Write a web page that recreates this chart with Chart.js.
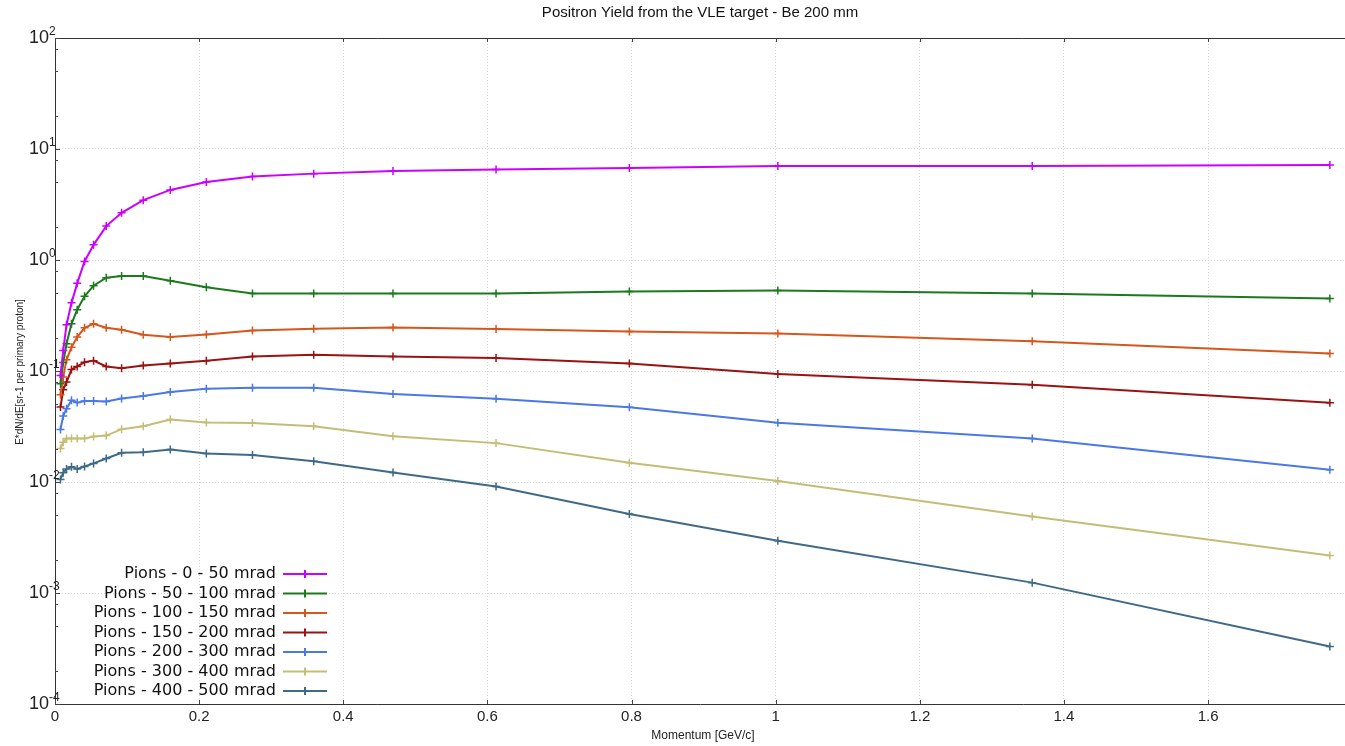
<!DOCTYPE html>
<html>
<head>
<meta charset="utf-8">
<script src="https://cdn.jsdelivr.net/npm/chart.js@4.4.1/dist/chart.umd.min.js"></script>
<style>
  html, body { margin: 0; padding: 0; background: #fff; overflow: hidden; }
  #wrap { width: 1345px; height: 746px; position: relative; }
</style>
</head>
<body>
<div id="wrap"><canvas id="grafico"></canvas></div>
<script>
// Momento (GeV/c) - mesmos bins para todas as séries
const momentum = [0.0076, 0.0114, 0.016, 0.0229, 0.0308, 0.041, 0.0535, 0.0711, 0.0924, 0.1225,
  0.160, 0.210, 0.274, 0.359, 0.469, 0.612, 0.797, 1.003, 1.356, 1.769];

// E*dN/dE por faixa angular
const pions0_50 = [0.091, 0.153, 0.261, 0.411, 0.616, 0.971, 1.37, 2.02, 2.66, 3.46,
  4.28, 5.05, 5.64, 6.0, 6.34, 6.52, 6.75, 7.03, 7.03, 7.18];
const pions50_100 = [0.0769, 0.119, 0.176, 0.266, 0.356, 0.471, 0.587, 0.693, 0.718, 0.718,
  0.650, 0.567, 0.498, 0.498, 0.498, 0.498, 0.519, 0.530, 0.498, 0.449];
const pions100_150 = [0.0612, 0.0881, 0.126, 0.164, 0.202, 0.245, 0.266, 0.245, 0.235, 0.212,
  0.202, 0.213, 0.232, 0.240, 0.246, 0.239, 0.227, 0.218, 0.185, 0.144];
const pions150_200 = [0.0474, 0.0679, 0.0794, 0.103, 0.110, 0.120, 0.124, 0.110, 0.106, 0.112,
  0.117, 0.124, 0.135, 0.140, 0.135, 0.131, 0.117, 0.094, 0.075, 0.0517];
const pions200_300 = [0.0297, 0.0394, 0.0458, 0.0544, 0.0519, 0.0537, 0.0537, 0.053, 0.0564, 0.0595,
  0.0646, 0.0693, 0.0708, 0.0708, 0.062, 0.0561, 0.0471, 0.0342, 0.0246, 0.0129];
const pions300_400 = [0.0200, 0.0228, 0.0246, 0.0246, 0.0246, 0.0246, 0.0257, 0.0262, 0.0299, 0.0318,
  0.0365, 0.0343, 0.0340, 0.0318, 0.0258, 0.0224, 0.0149, 0.0102, 0.00489, 0.00218];
const pions400_500 = [0.01055, 0.0121, 0.0131, 0.0137, 0.0131, 0.0138, 0.0147, 0.0163, 0.0183, 0.0185,
  0.0196, 0.0181, 0.0175, 0.0154, 0.0122, 0.0091, 0.00515, 0.00295, 0.00124, 0.00033];

const seriesNames = ['Pions - 0 - 50 mrad', 'Pions - 50 - 100 mrad', 'Pions - 100 - 150 mrad',
  'Pions - 150 - 200 mrad', 'Pions - 200 - 300 mrad', 'Pions - 300 - 400 mrad', 'Pions - 400 - 500 mrad'];
const seriesValues = [pions0_50, pions50_100, pions100_150, pions150_200, pions200_300, pions300_400, pions400_500];
const seriesColors = ['#cc00ff', '#1c7a1c', '#d6561c', '#9a1212', '#4a78e8', '#c4bd76', '#3e6a88'];

// Ticks dos eixos
const xTicks = [0, 0.2, 0.4, 0.6, 0.8, 1.0, 1.2, 1.4, 1.6];
const yDecades = [-4, -3, -2, -1, 0, 1, 2];
const yMinor = [2, 5, 8];

const titulo = 'Positron Yield from the VLE target - Be 200 mm';
const tituloX = 'Momentum [GeV/c]';
const tituloY = 'E*dN/dE[sr-1 per primary proton]';

const FONT = '"Liberation Sans", Arial, sans-serif';

// Plugin para textos, marcas e legenda
const extras = {
  id: 'extras',
  afterDraw(chart) {
    const { ctx, chartArea: a, scales: { x, y } } = chart;
    ctx.save();

    // borda superior
    ctx.strokeStyle = '#333';
    ctx.lineWidth = 1;
    ctx.beginPath();
    ctx.moveTo(a.left, a.top + 0.5);
    ctx.lineTo(a.right, a.top + 0.5);
    ctx.stroke();

    // marcas do eixo y
    ctx.strokeStyle = '#444';
    yDecades.forEach(e => {
      const py = Math.round(y.getPixelForValue(Math.pow(10, e))) + 0.5;
      ctx.beginPath();
      ctx.moveTo(a.left, py);
      ctx.lineTo(a.left + 5, py);
      ctx.stroke();
      if (e < 2) {
        yMinor.forEach(m => {
          const pm = Math.round(y.getPixelForValue(m * Math.pow(10, e))) + 0.5;
          ctx.beginPath();
          ctx.moveTo(a.left, pm);
          ctx.lineTo(a.left + 3, pm);
          ctx.stroke();
        });
      }
    });

    // marcas do eixo x (baixo e topo)
    x.ticks.forEach(t => {
      const px = Math.round(x.getPixelForValue(t.value)) + 0.5;
      ctx.beginPath();
      ctx.moveTo(px, a.bottom);
      ctx.lineTo(px, a.bottom - 4);
      ctx.moveTo(px, a.top);
      ctx.lineTo(px, a.top + 4);
      ctx.stroke();
    });

    // rótulos do eixo y: 10^n
    ctx.fillStyle = '#222';
    yDecades.forEach(e => {
      const py = y.getPixelForValue(Math.pow(10, e));
      ctx.font = '18px ' + FONT;
      ctx.textAlign = 'right';
      ctx.textBaseline = 'middle';
      ctx.fillText('10', 49, py);
      ctx.font = '12px ' + FONT;
      ctx.textAlign = 'left';
      ctx.textBaseline = 'alphabetic';
      ctx.fillText(String(e), 49, py - 3);
    });

    // título do eixo y
    ctx.save();
    ctx.translate(20, 372);
    ctx.rotate(-Math.PI / 2);
    ctx.font = '10px ' + FONT;
    ctx.textAlign = 'center';
    ctx.textBaseline = 'middle';
    ctx.fillStyle = '#222';
    ctx.fillText(tituloY, 0, 0);
    ctx.restore();

    // título do eixo x
    ctx.font = '12px ' + FONT;
    ctx.textAlign = 'center';
    ctx.textBaseline = 'middle';
    ctx.fillText(tituloX, 703, 736);

    // título principal
    ctx.font = '15px ' + FONT;
    ctx.fillStyle = '#111';
    ctx.fillText(titulo, (a.left + a.right) / 2, 13);

    // legenda
    ctx.font = '16px "DejaVu Sans", sans-serif';
    chart.data.datasets.forEach((ds, i) => {
      const ly = 574 + i * 19.5;
      ctx.fillStyle = '#111';
      ctx.textAlign = 'right';
      ctx.textBaseline = 'middle';
      ctx.fillText(ds.label, 276, ly);
      ctx.strokeStyle = ds.borderColor;
      ctx.lineWidth = 2;
      ctx.beginPath();
      ctx.moveTo(283, ly);
      ctx.lineTo(327, ly);
      ctx.moveTo(305, ly - 4);
      ctx.lineTo(305, ly + 4);
      ctx.stroke();
    });

    ctx.restore();
  }
};

const datasets = seriesNames.map((nome, i) => ({
  label: nome,
  data: momentum.map((m, j) => ({ x: m, y: seriesValues[i][j] })),
  borderColor: seriesColors[i],
  backgroundColor: seriesColors[i],
  borderWidth: 2,
  pointStyle: 'cross',
  pointRadius: 4,
  pointBorderWidth: 1.5,
  tension: 0
}));

new Chart(document.getElementById('grafico'), {
  type: 'line',
  data: { datasets },
  plugins: [extras],
  options: {
    responsive: true,
    maintainAspectRatio: false,
    animation: false,
    layout: { autoPadding: false, padding: { top: 38, left: 0, right: 0, bottom: 0 } },
    plugins: {
      legend: { display: false },
      title: { display: false },
      tooltip: { enabled: false }
    },
    scales: {
      x: {
        type: 'linear',
        min: 0,
        max: 1.79,
        afterFit(scale) { scale.height = 42; },
        afterBuildTicks(scale) {
          scale.ticks = xTicks.map(v => ({ value: v }));
        },
        ticks: {
          padding: 4,
          color: '#222',
          font: { family: FONT, size: 15 },
          maxRotation: 0,
          callback: v => String(Math.round(v * 10) / 10)
        },
        grid: { color: '#d6d6d6', drawTicks: false },
        border: { color: '#333', width: 1, dash: [1, 2] }
      },
      y: {
        type: 'logarithmic',
        min: 1e-4,
        max: 1e2,
        afterFit(scale) { scale.width = 55; },
        afterBuildTicks(scale) {
          scale.ticks = yDecades.map(e => ({ value: Math.pow(10, e), major: true }));
        },
        ticks: { display: false },
        grid: { color: '#d6d6d6', drawTicks: false },
        border: { color: '#333', width: 1, dash: [1, 2] }
      }
    }
  }
});
</script>
</body>
</html>
